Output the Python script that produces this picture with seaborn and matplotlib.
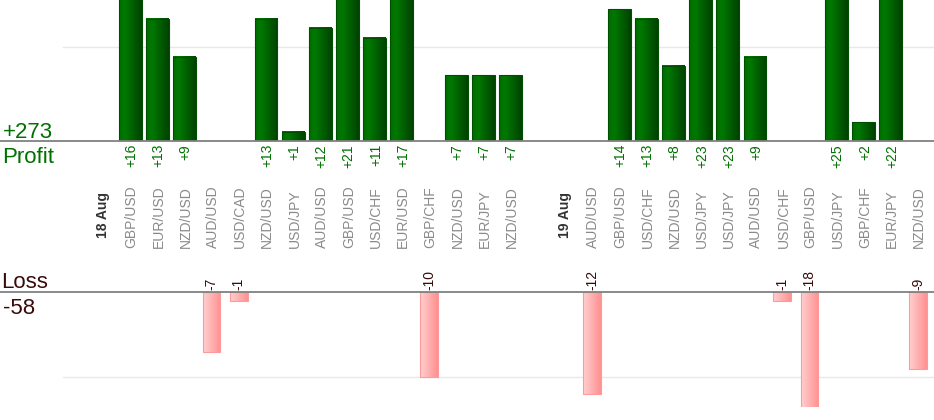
import numpy as np
import pandas as pd
import seaborn as sns
import matplotlib
matplotlib.use("Agg")
import matplotlib.pyplot as plt
from matplotlib.colors import LinearSegmentedColormap
from matplotlib.transforms import blended_transform_factory

# one slot per trade, a date header before each day, a blank slot between days
labels = ["18 Aug", "GBP/USD", "EUR/USD", "NZD/USD", "AUD/USD", "USD/CAD", "NZD/USD",
          "USD/JPY", "AUD/USD", "GBP/USD", "USD/CHF", "EUR/USD", "GBP/CHF", "NZD/USD",
          "EUR/JPY", "NZD/USD", "", "19 Aug", "AUD/USD", "GBP/USD", "USD/CHF", "NZD/USD",
          "USD/JPY", "USD/JPY", "AUD/USD", "USD/CHF", "GBP/USD", "USD/JPY", "GBP/CHF",
          "EUR/JPY", "NZD/USD"]
results = [None, 16, 13, 9, -7, -1, 13, 1, 12, 21, 11, 17, -10, 7, 7, 7, None, None,
           -12, 14, 13, 8, 23, 23, 9, -1, -18, 25, 2, 22, -9]
date_labels = ["18 Aug", "19 Aug"]

df = pd.DataFrame({"slot": np.arange(len(labels)), "label": labels, "result": results})
df_profit = df[df["result"] > 0]
df_loss = df[df["result"] < 0]
total_profit = int(df_profit["result"].sum())
total_loss = int(df_loss["result"].sum())

sns.set_style("white")
plt.rcParams["font.family"] = ["Liberation Sans", "DejaVu Sans"]

W, H = 934, 420
fig = plt.figure(figsize=(W / 100, H / 100), dpi=100)


def fy(px):
    return 1 - px / H


ax_p = fig.add_axes([0, fy(141.3), 1, 141.3 / H])
ax_l = fig.add_axes([0, fy(407), 1, (407 - 292.3) / H])

xlim = (-103 / 27.17, 30 + 16 / 27.17)


def gradient_bars(ax, cmap, edge):
    # fill each bar with a left-to-right gradient, cut to the axes limits
    grad = np.linspace(0, 1, 64).reshape(1, -1)
    lo, hi = ax.get_ylim()
    for patch in list(ax.patches):
        bb = patch.get_bbox()
        y0, y1 = max(bb.y0, lo), min(bb.y1, hi)
        im = ax.imshow(grad, extent=[bb.x0, bb.x1, y0, y1], cmap=cmap,
                       aspect="auto", zorder=2, interpolation="bilinear")
        im.set_clip_path(patch)
        im.set_clip_box(ax.bbox)
        patch.set_facecolor("none")
        patch.set_edgecolor(edge)
        patch.set_linewidth(0.8)
        patch.set_zorder(3)
        patch.set_clip_on(True)
        patch.set_clip_box(ax.bbox)
    ax.set_ylim(lo, hi)
    ax.set_xlim(*xlim)


sns.barplot(data=df_profit, x="slot", y="result", native_scale=True, orient="x",
            width=0.84, color="#006000", errorbar=None, ax=ax_p)
sns.barplot(data=df_loss, x="slot", y="result", native_scale=True, orient="x",
            width=0.65, color="#ffaaaa", errorbar=None, ax=ax_l)

for ax, lim, grid in [(ax_p, (0, 15), 10), (ax_l, (-13.5, 0), -10)]:
    ax.set_xlim(*xlim)
    ax.set_ylim(*lim)
    ax.axhline(grid, xmin=63 / W, color="#e8e8e8", lw=1, zorder=1)
    ax.axhline(0, color="#808080", lw=1.3, zorder=4, clip_on=False)
    ax.set_axis_off()

green = LinearSegmentedColormap.from_list("g", [(0, "#006c00"), (0.25, "#007a00"), (1, "#004200")])
gradient_bars(ax_p, green, "#004f00")
pink = LinearSegmentedColormap.from_list("p", ["#ffd0d0", "#ff9090"])
gradient_bars(ax_l, pink, "#ff9a9a")

tr = blended_transform_factory(ax_p.transData, fig.transFigure)
for _, row in df.iterrows():
    if row["label"] == "":
        continue
    if row["label"] in date_labels:
        fig.text(row["slot"], fy(238.5), row["label"], transform=tr, rotation=90,
                 ha="center", va="bottom", fontsize=10, fontweight="bold", color="#333333")
    else:
        fig.text(row["slot"] + 0.05, fy(248.5), row["label"], transform=tr, rotation=90,
                 ha="center", va="bottom", fontsize=10, color="#8a8a8a")
    v = row["result"]
    if pd.notna(v) and v > 0:
        fig.text(row["slot"] + 0.05, fy(144), "+" + str(int(v)), transform=tr, rotation=90,
                 ha="center", va="top", fontsize=10, color="#007000")
    elif pd.notna(v) and v < 0:
        fig.text(row["slot"], fy(290.5), str(int(v)), transform=tr, rotation=90,
                 ha="center", va="bottom", fontsize=10, color="#3a0a0a")

fig.text(2.5 / W, fy(137.5), "+" + str(total_profit), fontsize=16, color="#007000", va="baseline")
fig.text(2.5 / W, fy(163.3), "Profit", fontsize=16, color="#007000", va="baseline")
fig.text(1.5 / W, fy(287.7), "Loss", fontsize=16, color="#3a0a0a", va="baseline")
fig.text(2.5 / W, fy(314), str(total_loss), fontsize=16, color="#3a0a0a", va="baseline")

fig.savefig("out.png", dpi=100)
